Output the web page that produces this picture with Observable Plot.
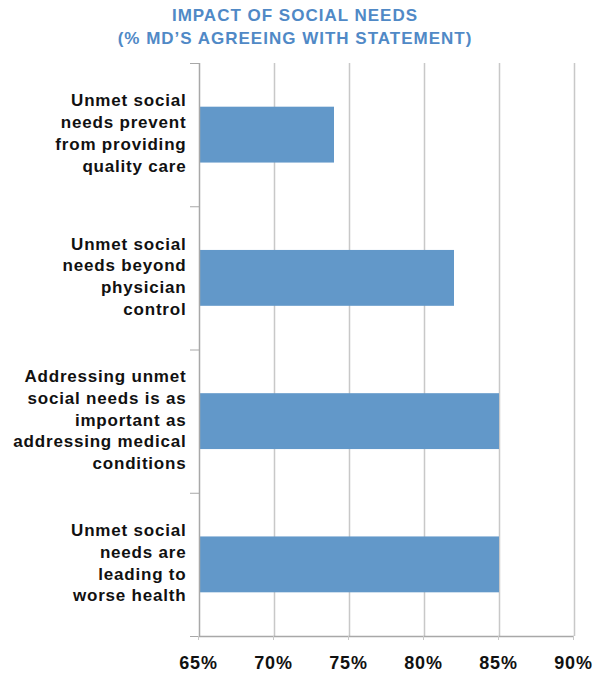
<!DOCTYPE html>
<html>
<head>
<meta charset="utf-8">
<script src="https://cdn.jsdelivr.net/npm/d3@7"></script>
<script src="https://cdn.jsdelivr.net/npm/@observablehq/plot@0.6"></script>
<style>
  body { margin: 0; background: #fff; font-family: "Liberation Sans", Arial, sans-serif; }
  #title { width: 590px; padding: 4px 13px 0 0; box-sizing: content-box; text-align: center;
           font-size: 17px; font-weight: bold; letter-spacing: 1px; line-height: 23px; color: #5089c6; }
  #chart svg { display: block; }
</style>
</head>
<body>
<div id="title">IMPACT OF SOCIAL NEEDS<br>(% MD’S AGREEING WITH STATEMENT)</div>
<div id="chart"></div>
<script>
const categories = [
  "Unmet social\nneeds prevent\nfrom providing\nquality care",
  "Unmet social\nneeds beyond\nphysician\ncontrol",
  "Addressing unmet\nsocial needs is as\nimportant as\naddressing medical\nconditions",
  "Unmet social\nneeds are\nleading to\nworse health"
];
const values = [74, 82, 85, 85];
const xTicks = [65, 70, 75, 80, 85, 90];
const xMin = 65, xMax = 90;

const rows = categories.map((c, i) => ({category: c, value: values[i], index: i}));
const boundaries = d3.range(categories.length + 1);

const chart = Plot.plot({
  width: 603,
  height: 624,
  marginTop: 13,
  marginBottom: 38,
  marginLeft: 199,
  marginRight: 29,
  style: {fontFamily: "'Liberation Sans', Arial, sans-serif", fontWeight: "bold", color: "#111", background: "#fff", letterSpacing: "0.8px"},
  x: {domain: [xMin, xMax]},
  y: {domain: [0, categories.length], reverse: true},
  marks: [
    Plot.ruleX(xTicks.slice(1), {y1: 0, y2: categories.length, stroke: "#c8c8c8", strokeWidth: 1.5}),
    Plot.rectX(rows, {x1: () => xMin, x2: "value", y1: d => d.index + 0.305, y2: d => d.index + 0.695, fill: "#6298c9"}),
    Plot.ruleX([xMin], {y1: 0, y2: categories.length, stroke: "#a8a8a8", strokeWidth: 1.5}),
    Plot.ruleY([categories.length], {stroke: "#a8a8a8", strokeWidth: 1.5}),
    Plot.axisY({ticks: boundaries, tickSize: 9, tickFormat: () => "", label: null, stroke: "#a8a8a8"}),
    Plot.axisX({ticks: xTicks, tickSize: 4, tickPadding: 16, tickFormat: d => d + "%", label: null, stroke: "#c8c8c8", fontSize: 18, fill: "#111", dx: -1}),
    Plot.text(rows, {
      text: "category",
      y: d => d.index + 0.5,
      frameAnchor: "left",
      textAnchor: "end",
      dx: -13,
      dy: -3,
      lineHeight: 1.28,
      fontSize: 17,
      fill: "#111"
    })
  ]
});
document.getElementById("chart").appendChild(chart);
</script>
</body>
</html>
